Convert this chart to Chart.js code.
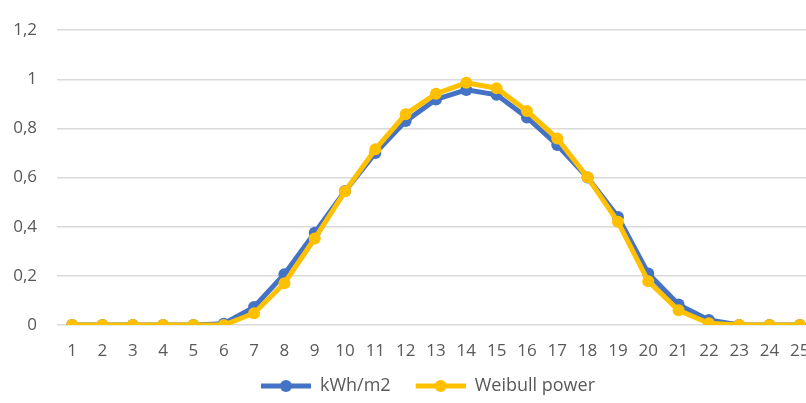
<!DOCTYPE html>
<html>
<head>
<meta charset="utf-8">
<script src="https://cdn.jsdelivr.net/npm/chart.js@4"></script>
<style>
  html, body { margin: 0; padding: 0; background: #fff; overflow: hidden; }
  #wrap { width: 852px; height: 403px; position: relative; }
</style>
</head>
<body>
<div id="wrap"><canvas id="chart"></canvas></div>
<script>
const hours = ['1','2','3','4','5','6','7','8','9','10','11','12','13','14','15','16','17','18','19','20','21','22','23','24','25'];
const kwh = [0, 0, 0, 0, 0, 0.005, 0.073, 0.207, 0.376, 0.545, 0.70, 0.83, 0.918, 0.957, 0.937, 0.845, 0.733, 0.60, 0.44, 0.21, 0.083, 0.02, 0, 0, 0];
const weibull = [0, 0, 0, 0, 0, 0, 0.048, 0.17, 0.352, 0.544, 0.715, 0.858, 0.941, 0.986, 0.964, 0.871, 0.759, 0.601, 0.42, 0.178, 0.06, 0.007, 0, 0, 0];
const yTicks = [0, 0.2, 0.4, 0.6, 0.8, 1, 1.2];

const blue = '#4472C4';
const yellow = '#FFC000';

// legend marker: line with a dot, transparent gap on the left
const markGap = 11;
function legendMark(color) {
    const c = document.createElement('canvas');
    c.width = 50 + markGap; c.height = 14;
    const g = c.getContext('2d');
    g.strokeStyle = color;
    g.lineWidth = 5;
    g.beginPath(); g.moveTo(markGap, 7); g.lineTo(markGap + 50, 7); g.stroke();
    g.fillStyle = color;
    g.beginPath(); g.arc(markGap + 25, 7, 6, 0, Math.PI * 2); g.fill();
    return c;
}
const marks = [legendMark(blue), legendMark(yellow)];

// nudge the legend to where it sits in the original
const legendShift = {
    id: 'legendShift',
    afterLayout(chart) {
        const lg = chart.legend;
        lg.left += 15; lg.right += 15;
        lg.top += 2; lg.bottom += 2;
    }
};

const ctx = document.getElementById('chart').getContext('2d');
const myChart = new Chart(ctx, {
    type: 'line',
    data: {
        labels: hours,
        datasets: [
            {
                label: 'kWh/m2',
                data: kwh,
                borderColor: blue,
                backgroundColor: blue,
                order: 2
            },
            {
                label: 'Weibull power',
                data: weibull,
                borderColor: yellow,
                backgroundColor: yellow,
                order: 1
            }
        ]
    },
    plugins: [legendShift],
    options: {
        responsive: true,
        maintainAspectRatio: false,
        animation: false,
        layout: {
            padding: { top: 22, right: 37, left: 0, bottom: 0 }
        },
        plugins: {
            legend: {
                position: 'bottom',
                labels: {
                    usePointStyle: true,
                    pointStyleWidth: 50 + markGap,
                    padding: 14,
                    color: '#595959',
                    font: { family: 'Open Sans', size: 18 },
                    generateLabels(chart) {
                        return chart.data.datasets.map((ds, i) => ({
                            text: ds.label,
                            pointStyle: marks[i],
                            fillStyle: ds.borderColor,
                            strokeStyle: ds.borderColor,
                            fontColor: '#595959',
                            lineWidth: 0,
                            datasetIndex: i
                        }));
                    }
                }
            },
            tooltip: { enabled: false }
        },
        elements: {
            line: {
                borderWidth: 5,
                tension: 0
            },
            point: {
                pointStyle: 'circle',
                radius: 6,
                borderWidth: 0
            }
        },
        scales: {
            x: {
                offset: true,
                grid: { display: false },
                border: { display: false },
                ticks: {
                    color: '#595959',
                    font: { family: 'Open Sans', size: 17 },
                    padding: 8,
                    maxRotation: 0,
                    autoSkip: false
                },
                afterFit(scale) { scale.height = 36; }
            },
            y: {
                min: 0,
                max: 1.2,
                afterBuildTicks(scale) { scale.ticks = yTicks.map(v => ({ value: v })); },
                grid: { color: '#D9D9D9', lineWidth: 1.5, drawTicks: false },
                border: { display: false },
                ticks: {
                    color: '#595959',
                    font: { family: 'Open Sans', size: 17 },
                    padding: 20,
                    callback: v => String(Math.round(v * 10) / 10).replace('.', ',')
                },
                afterFit(scale) { scale.width = 57; }
            }
        }
    }
});
</script>
</body>
</html>
